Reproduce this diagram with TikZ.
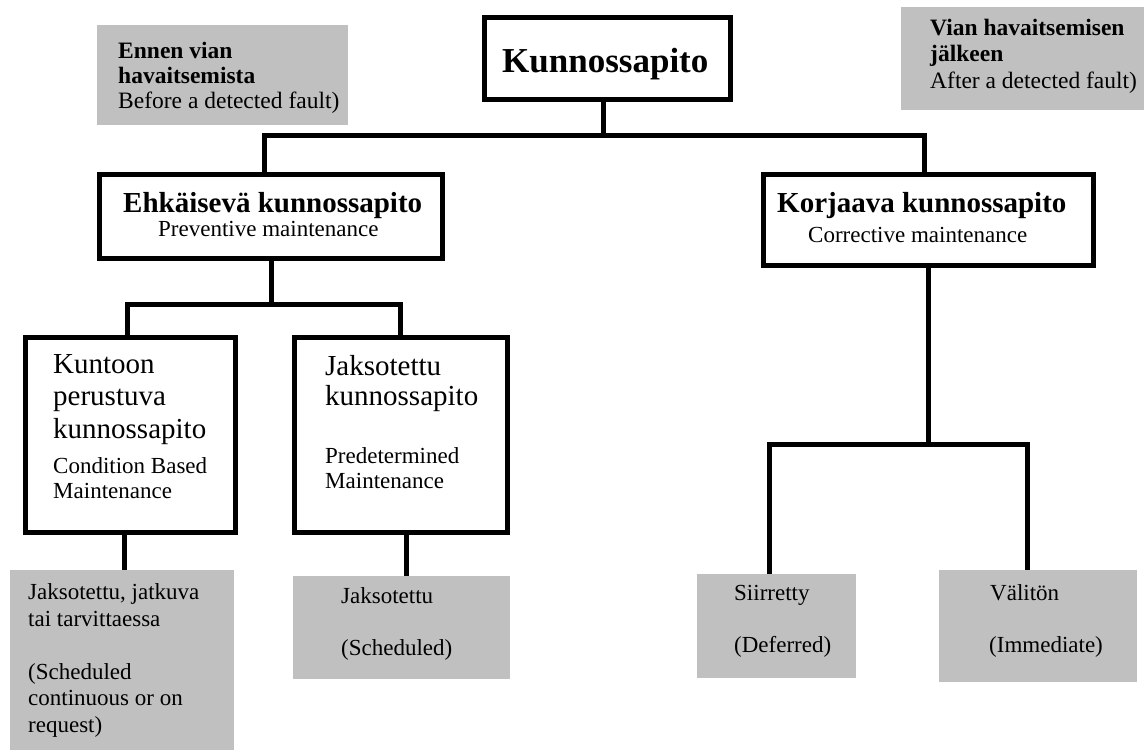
\documentclass[tikz,border=0pt]{standalone}
\usepackage{fontspec}
\setmainfont{Liberation Serif}
\definecolor{boxgray}{RGB}{192,192,192}
\begin{document}
\begin{tikzpicture}[x=1pt,y=-1pt,
  blackbox/.style={draw=black,line width=5pt,fill=white,inner sep=0pt},
  graybox/.style={fill=boxgray,draw=none,inner sep=0pt},
  conn/.style={draw=black,line width=5pt,line join=miter},
  txt/.style={anchor=base west,inner sep=0pt,align=left,text=black},
  big/.style={font=\fontsize{29}{32.5}\selectfont},
  bigb/.style={font=\bfseries\fontsize{29}{32}\selectfont},
  small/.style={font=\fontsize{23}{26}\selectfont},
  smallb/.style={font=\fontsize{23.5}{25}\selectfont}
]
\useasboundingbox (0,0) rectangle (1145,755);
\fill[white] (0,0) rectangle (1145,755);

% gray note boxes
\node[graybox,minimum width=251pt,minimum height=100pt] (ennen) at (222.5,75) {};
\node[graybox,minimum width=243pt,minimum height=103pt] (vian) at (1022.5,58.5) {};
\node[graybox,minimum width=224pt,minimum height=180pt] (g1) at (122,660) {};
\node[graybox,minimum width=217pt,minimum height=103pt] (g2) at (401.5,627.5) {};
\node[graybox,minimum width=159pt,minimum height=104pt] (sii) at (776.5,626) {};
\node[graybox,minimum width=198pt,minimum height=112pt] (val) at (1038,626) {};

% black boxes
\node[blackbox,minimum width=246pt,minimum height=82pt] (kp) at (607.5,58.5) {};
\node[blackbox,minimum width=343pt,minimum height=84pt] (ehk) at (271,216) {};
\node[blackbox,minimum width=330pt,minimum height=91pt] (kor) at (928.5,220) {};
\node[blackbox,minimum width=210pt,minimum height=195pt] (kt) at (130.5,435) {};
\node[blackbox,minimum width=213pt,minimum height=195pt] (jk) at (401,435) {};

% junction coordinates
\coordinate (jt) at (603,135);
\coordinate (jtl) at (264,135);
\coordinate (jtr) at (924,135);
\coordinate (jml) at (127.5,304);
\coordinate (jmr) at (400.5,304);
\coordinate (jrl) at (769,444);
\coordinate (jrr) at (1027,444);

% connectors
\draw[conn] (kp.south -| jt) -- (jt);
\draw[conn] (ehk.north -| jtl) -- (jtl) -- (jtr) -- (kor.north -| jtr);
\draw[conn] (ehk.south) -- (ehk.south |- jml);
\draw[conn] (kt.north -| jml) -- (jml) -- (jmr) -- (jk.north -| jmr);
\draw[conn] ([xshift=-6.5pt]kt.south) -- ([xshift=-6.5pt]kt.south |- g1.north);
\draw[conn] ([xshift=5pt]jk.south) -- ([xshift=5pt]jk.south |- g2.north);
\draw[conn] (kor.south) -- (kor.south |- jrl);
\draw[conn] (sii.north -| jrl) -- (jrl) -- (jrr) -- (val.north -| jrr);

% texts (multi-line nodes: base = baseline of last line)
\node[txt,font=\bfseries\fontsize{35}{40}\selectfont] (kpt) at (502,72) {Kunnossapito};
\node[txt,bigb] (ehk1) at (123,212) {Ehkäisevä kunnossapito};
\node[txt,small] (ehk2) at (158,236) {Preventive maintenance};
\node[txt,bigb] (kor1) at (777,212) {Korjaava kunnossapito};
\node[txt,small] (kor2) at (808,242) {Corrective maintenance};

\node[txt,smallb] (ennt) at (118,108) {\textbf{Ennen vian}\\\textbf{havaitsemista}\\Before a detected fault)};
\node[txt,font=\fontsize{23.5}{26.5}\selectfont] (viant) at (930,88) {\textbf{Vian havaitsemisen}\\\textbf{jälkeen}\\After a detected fault)};

\node[txt,big] (kt1) at (53,438) {Kuntoon\\perustuva\\kunnossapito};
\node[txt,font=\fontsize{23}{25}\selectfont] (kt2) at (53,498) {Condition Based\\Maintenance};
\node[txt,font=\fontsize{29}{30}\selectfont] (jk1) at (325,405) {Jaksotettu\\kunnossapito};
\node[txt,font=\fontsize{23}{25}\selectfont] (jk2) at (325,488) {Predetermined\\Maintenance};

\node[txt,font=\fontsize{23}{27}\selectfont] (g1a) at (28,626) {Jaksotettu, jatkuva\\tai tarvittaessa};
\node[txt,font=\fontsize{23}{26.5}\selectfont] (g1b) at (28,732) {(Scheduled\\continuous or on\\request)};
\node[txt,small] (g2a) at (341,603) {Jaksotettu};
\node[txt,small] (g2b) at (341,655) {(Scheduled)};
\node[txt,small] (siia) at (734,600) {Siirretty};
\node[txt,small] (siib) at (734,652) {(Deferred)};
\node[txt,small] (vala) at (990,600) {Välitön};
\node[txt,small] (valb) at (989,652) {(Immediate)};
\end{tikzpicture}
\end{document}
